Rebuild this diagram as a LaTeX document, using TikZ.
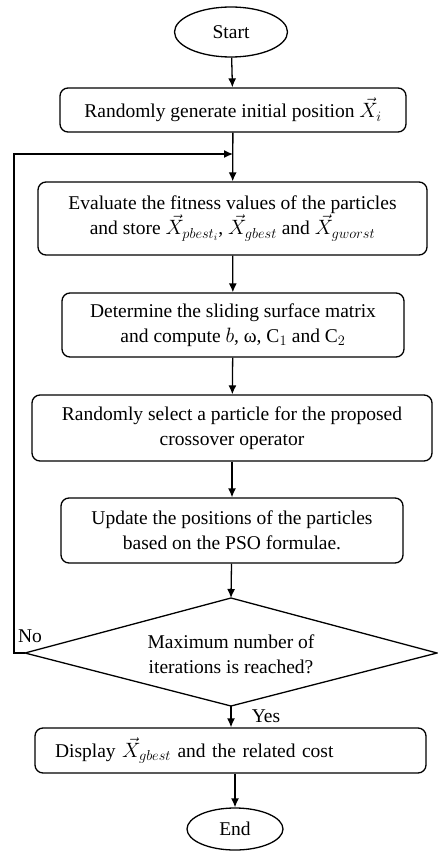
\documentclass[tikz,border=0pt]{standalone}
\usepackage{fontspec}
\setmainfont{Liberation Serif}
\usetikzlibrary{shapes.geometric,arrows.meta}
\begin{document}
\begin{tikzpicture}[x=1pt,y=-1pt,
  every node/.style={font=\fontsize{19.5}{25}\selectfont},
  proc/.style={draw,rounded corners=8pt,line width=1.3pt,align=center,inner sep=0pt},
  term/.style={draw,ellipse,line width=1.3pt,inner sep=0pt},
  arr/.style={line width=1.3pt,-{Latex[length=9pt,width=8pt]}},
  ln/.style={line width=1.3pt}]
\useasboundingbox (0,0) rectangle (438,851);
\node[term,minimum width=113pt,minimum height=50pt] (start) at (231,32) {Start};
\node[proc,minimum width=346pt,minimum height=44pt] (b1) at (233,110) {Randomly generate initial position $\vec{X}_i$};
\node[proc,minimum width=389pt,minimum height=73pt] (b2) at (232.5,218.5) {Evaluate the fitness values of the particles\\and store $\vec{X}_{pbest_i}$, $\vec{X}_{gbest}$ and $\vec{X}_{gworst}$};
\node[proc,minimum width=342pt,minimum height=64pt] (b3) at (233,325) {Determine the sliding surface matrix\\and compute $b$, ω, C$_1$ and C$_2$};
\node[proc,minimum width=400pt,minimum height=66pt] (b4) at (232,428) {Randomly select a particle for the proposed\\crossover operator};
\node[proc,minimum width=342pt,minimum height=65pt] (b5) at (232,530.5) {Update the positions of the particles\\based on the PSO formulae.};
\coordinate (dt) at (231,598);
\coordinate (dl) at (25,653);
\coordinate (dr) at (437,653);
\coordinate (db) at (231,706);
\draw[ln,line join=miter] (dt) -- (dr) -- (db) -- (dl) -- cycle;
\node[align=center] (dtext) at (231,654) {Maximum number of\\iterations is reached?};
\node[proc,minimum height=45pt,text width=351pt,inner xsep=20pt,align=left] (b6) at (230.5,750.5) {Display $\vec{X}_{gbest}$ and the related cost};
\node[term,minimum width=96pt,minimum height=42pt] (end) at (235,829) {End};
\coordinate (c1) at (14,653);
\coordinate (c2) at (14,154);
\coordinate (c3) at (b1.south |- c2);
\node (no) at (30,636) {No};
\node (yes) at (266,716) {Yes};
\draw[arr] (start) -- (b1);
\draw[arr] (b1) -- (b2);
\draw[arr] (b2) -- (b3);
\draw[arr] (b3) -- (b4);
\draw[arr] (b4) -- (b5);
\draw[arr] (b5) -- (dt);
\draw[arr] (db) -- (db |- b6.north);
\draw[arr] (b6.south -| end.north) -- (end);
\draw[arr] (dl) -- (c1) -- (c2) -- (c3);
\end{tikzpicture}
\end{document}
